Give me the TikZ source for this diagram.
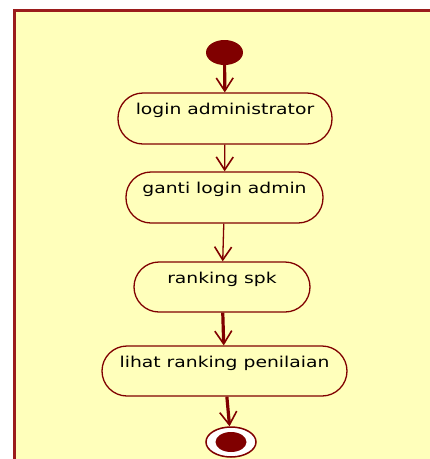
\documentclass[tikz,border=0pt]{standalone}
\usepackage{fontspec}
\newfontfamily\actfont[FakeStretch=1.25]{DejaVu Sans}
\usetikzlibrary{arrows.meta,positioning,shapes.geometric}
\definecolor{umlfill}{HTML}{FFFFBB}
\definecolor{umlline}{HTML}{800000}
\definecolor{umlframe}{HTML}{9B1C1C}

\begin{document}
\begin{tikzpicture}[
  x=1pt, y=-1pt,
  every node/.style={font=\actfont\fontsize{15}{18}\selectfont},
  activity/.style={draw=umlline, line width=1.3pt, fill=umlfill, rounded corners=25pt,
    inner sep=0pt, text height=21pt, text depth=30pt},
  initial/.style={ellipse, fill=umlline, inner sep=0pt, minimum width=37pt, minimum height=25pt},
  final/.style={ellipse, draw=umlline, line width=1.5pt, fill=white, inner sep=0pt,
    minimum width=50pt, minimum height=30pt},
  finaldot/.style={ellipse, fill=umlline, inner sep=0pt, minimum width=31pt, minimum height=20pt},
  flow/.style={->, draw=umlline, line width=1.3pt},
  thickflow/.style={flow, line width=3.2pt},
  >={Straight Barb[length=13pt,width=17pt,line width=1.6pt]}
]

\clip (0,0) rectangle (430,459);

% Frame
\draw[draw=umlframe, line width=3pt, fill=umlfill] (14,10) rectangle (450,480);

% Nodes (states)
\node[initial] (start) at (224.5,52.5) {};
\node[activity, minimum width=214pt] (login) at (225,118.5) {login administrator};
\node[activity, minimum width=197pt] (ganti) at (224.5,197.5) {ganti login admin};
\node[activity, minimum width=176pt, text depth=29pt] (rank) at (222,287) {ranking spk};
\node[activity, minimum width=245pt, text depth=29pt] (lihat) at (224.5,371) {lihat ranking penilaian};
\node[final] (end) at (231,442) {};
\node[finaldot] (enddot) at (end) {};

% Arrows (flows)
\draw[thickflow] (start) -- (login);
\draw[flow] (login) -- (ganti);
\draw[flow] (ganti) -- (rank);
\draw[thickflow] (rank) -- (lihat);
\draw[thickflow] (lihat) -- (end);

\end{tikzpicture}
\end{document}
